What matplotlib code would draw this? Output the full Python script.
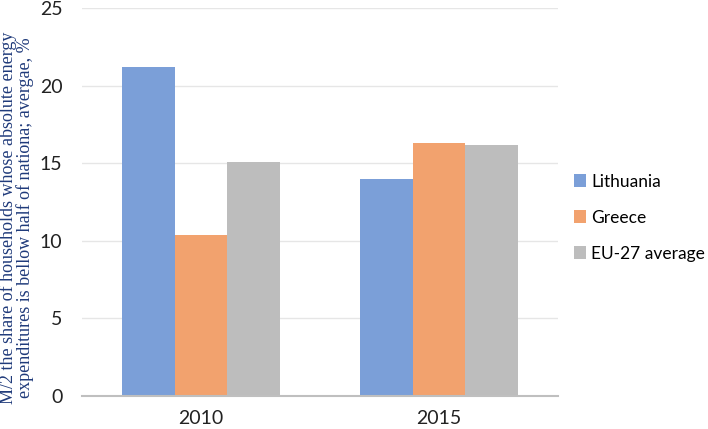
import numpy as np
import matplotlib.pyplot as plt

# Chart data
years = ['2010', '2015']
series = ['Lithuania', 'Greece', 'EU-27 average']
lithuania = [21.2, 14.0]
greece = [10.4, 16.3]
eu27 = [15.1, 16.2]

colors = ['#7b9fd8', '#f2a26e', '#bdbdbd']
values = [lithuania, greece, eu27]

plt.rcParams['font.family'] = ['Lato', 'DejaVu Sans']

fig = plt.figure(figsize=(7.08, 4.29), dpi=100)
ax = fig.add_axes([0.1158, 0.0769, 0.6723, 0.9044])

x = np.arange(len(years))
width = 0.221
for i, (name, vals) in enumerate(zip(series, values)):
    ax.bar(x + (i - 1) * width, vals, width, color=colors[i], label=name, zorder=2)

ax.set_xlim(-0.5, 1.5)
ax.set_ylim(0, 25)
ax.set_yticks([0, 5, 10, 15, 20, 25])
ax.set_xticks(x)
ax.set_xticklabels(years)
ax.tick_params(axis='both', length=0, labelsize=14, colors='#222222')
ax.tick_params(axis='y', pad=14)
ax.tick_params(axis='x', pad=10)
ax.grid(axis='y', color='#e6e6e6', linewidth=1, zorder=0)
for side in ['top', 'right', 'left']:
    ax.spines[side].set_visible(False)
ax.spines['bottom'].set_color('#bfbfbf')
ax.spines['bottom'].set_linewidth(1.5)

ax.set_ylabel('M/2 the share of households whose absolute energy\n'
              'expenditures is bellow half of nationa; avergae, %',
              family='Liberation Serif', fontsize=13, color='#1f3a7a',
              linespacing=0.95)
ax.yaxis.set_label_coords(-0.1, 0.46)

ax.legend(loc='center left', bbox_to_anchor=(1.0, 0.46), frameon=False,
          fontsize=12.5, handlelength=0.7, handleheight=0.7,
          labelspacing=1.15, handletextpad=0.3)

fig.savefig('out.png', dpi=100)
